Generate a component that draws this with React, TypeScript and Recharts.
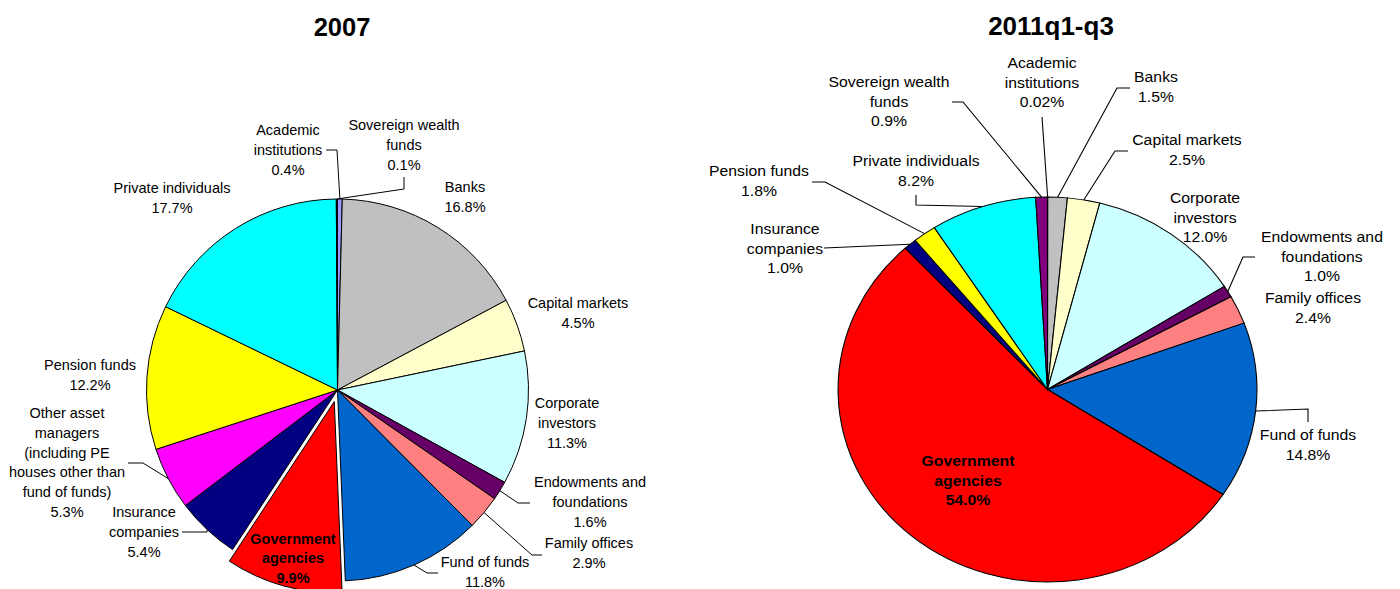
import { PieChart, Pie, Cell } from "recharts";

// categories in the order the slices run clockwise from 12 o'clock
const categories = [
  "Academic\ninstitutions",
  "Banks",
  "Capital markets",
  "Corporate\ninvestors",
  "Endowments and\nfoundations",
  "Family offices",
  "Fund of funds",
  "Government\nagencies",
  "Insurance\ncompanies",
  "Other asset\nmanagers\n(including PE\nhouses other than\nfund of funds)",
  "Pension funds",
  "Private individuals",
  "Sovereign wealth\nfunds",
];

const share2007 = [0.4, 16.8, 4.5, 11.3, 1.6, 2.9, 11.8, 9.9, 5.4, 5.3, 12.2, 17.7, 0.1];
const share2011 = [0.02, 1.5, 2.5, 12.0, 1.0, 2.4, 14.8, 54.0, 1.0, null, 1.8, 8.2, 0.9];

const sliceColors = [
  "#9999FF",
  "#C0C0C0",
  "#FFFFCC",
  "#CCFFFF",
  "#660066",
  "#FF8080",
  "#0066CC",
  "#FF0000",
  "#000080",
  "#FF00FF",
  "#FFFF00",
  "#00FFFF",
  "#800080",
];

const titles = ["2007", "2011q1-q3"];

const GOV = 7; // exploded / bold slice

type Spot = { dx: number; dy: number; lead?: [number, number][] } | null;

// label placement relative to the pie centre (page pixels)
const spots2007: Spot[] = [
  { dx: -49.5, dy: -260, lead: [[-11.5, -240], [-0.5, -240]] },
  { dx: 127.5, dy: -203 },
  { dx: 240.5, dy: -87 },
  { dx: 229.5, dy: 13 },
  { dx: 252.5, dy: 92, lead: [[192.5, 113], [180.5, 113]] },
  { dx: 251.5, dy: 153, lead: [[204.5, 165], [194.5, 165]] },
  { dx: 147.5, dy: 172, lead: [[100.5, 183], [89.5, 183]] },
  { dx: -44.5, dy: 149 },
  { dx: -193.5, dy: 122, lead: [[-155.5, 142], [-130.5, 142]] },
  { dx: -270.5, dy: 23, lead: [[-209.5, 73], [-194.5, 73]] },
  { dx: -247.5, dy: -25 },
  { dx: -165.5, dy: -202 },
  { dx: 66.5, dy: -265, lead: [[66.5, -213], [66.5, -201]] },
];

const spots2011: Spot[] = [
  { dx: -5.5, dy: -326.5, lead: [[-5.5, -272.5]] },
  { dx: 108.5, dy: -312.5, lead: [[82.5, -301.5], [69.5, -301.5]] },
  { dx: 139.5, dy: -249.5, lead: [[80.5, -238.5], [67.5, -238.5]] },
  { dx: 157.5, dy: -191.5 },
  { dx: 274.5, dy: -152.5, lead: [[207.5, -132.5], [195.5, -132.5]] },
  { dx: 265.5, dy: -91.5 },
  { dx: 260.5, dy: 45.5, lead: [[260.5, 32.5], [260.5, 19.5]] },
  { dx: -79.5, dy: 71.5 },
  { dx: -262.5, dy: -160.5, lead: [[-223.5, -141.5]] },
  null,
  { dx: -288.5, dy: -218.5, lead: [[-235.5, -207.5], [-222.5, -207.5]] },
  { dx: -131.5, dy: -228.5, lead: [[-131.5, -194.5], [-131.5, -184.5]] },
  { dx: -158.5, dy: -307.5, lead: [[-95.5, -287.5], [-84.5, -287.5]] },
];

const FONT = "'Liberation Sans', Arial, sans-serif";
const RAD = Math.PI / 180;
const NO_MARGIN = { top: 0, right: 0, bottom: 0, left: 0 };

const fmt = (v: number) => (v < 0.1 ? v.toFixed(2) : v.toFixed(1)) + "%";

function buildData(values: (number | null)[]) {
  return values
    .map((v, i) => ({ name: categories[i], value: v, idx: i, fill: sliceColors[i] }))
    .filter((d) => d.value !== null) as { name: string; value: number; idx: number; fill: string }[];
}

const data2007 = buildData(share2007);
const data2011 = buildData(share2011);

function makeLabel(
  spots: Spot[],
  ox: number,
  oy: number,
  sx: number,
  lh: number,
  test: (i: number) => boolean
) {
  return (p: any) => {
    const i = p.idx ?? p.payload?.idx ?? p.index;
    const s = spots[i];
    if (!s || !test(i)) return <g />;
    const a = -p.midAngle * RAD;
    const ex = p.cx + p.outerRadius * Math.cos(a);
    const ey = p.cy + p.outerRadius * Math.sin(a);
    const lines = [...categories[i].split("\n"), fmt(p.value)];
    const tx = ox + s.dx / sx;
    const pts = (s.lead || []).map(([a1, b1]) => `${ox + a1 / sx},${oy + b1}`);
    if (s.lead) pts.push(`${ex},${ey}`);
    return (
      <g>
        {s.lead && <polyline points={pts.join(" ")} fill="none" stroke="#000" strokeWidth={1} />}
        <text
          x={tx}
          textAnchor="middle"
          fontFamily={FONT}
          fontSize={14.5}
          fontWeight={i === GOV ? "bold" : "normal"}
          fill="#000"
        >
          {lines.map((t, k) => (
            <tspan key={k} x={tx} y={oy + s.dy + k * lh + 5}>
              {t}
            </tspan>
          ))}
        </text>
      </g>
    );
  };
}

// 2007 pie
const CX1 = 337.5;
const CY1 = 390;
const R1 = 191;
const EXPLODE = 12;
const govFrac =
  (share2007.slice(0, GOV).reduce((a, b) => a + b, 0) + share2007[GOV] / 2) /
  share2007.reduce((a, b) => a + b, 0);
const govDx = Math.sin(govFrac * 2 * Math.PI) * EXPLODE;
const govDy = -Math.cos(govFrac * 2 * Math.PI) * EXPLODE;

// 2011 pie (stretched horizontally like the source)
const CX2 = 347.5;
const CY2 = 389.5;
const R2 = 192.5;
const SX2 = 1.088;

export default function App() {
  return (
    <div
      style={{
        position: "absolute",
        left: 0,
        top: 0,
        width: 1400,
        height: 589,
        background: "#fff",
        overflow: "hidden",
      }}
    >
      <svg width={1400} height={60} style={{ position: "absolute", left: 0, top: 0 }}>
        <text x={342} y={36} textAnchor="middle" fontFamily={FONT} fontSize={25.5} fontWeight="bold">
          {titles[0]}
        </text>
        <text x={1051} y={35} textAnchor="middle" fontFamily={FONT} fontSize={26} fontWeight="bold">
          {titles[1]}
        </text>
      </svg>

      <div style={{ position: "absolute", left: 0, top: 0 }}>
        <PieChart width={700} height={589} margin={NO_MARGIN}>
          <Pie
            data={data2007}
            dataKey="value"
            nameKey="name"
            cx={CX1}
            cy={CY1}
            outerRadius={R1}
            startAngle={90}
            endAngle={-270}
            isAnimationActive={false}
            labelLine={false}
            label={makeLabel(spots2007, CX1, CY1, 1, 19.8, (i) => i !== GOV)}
          >
            {data2007.map((d) => (
              <Cell
                key={d.idx}
                fill={d.idx === GOV ? "none" : d.fill}
                stroke={d.idx === GOV ? "none" : "#000"}
                strokeWidth={1}
              />
            ))}
          </Pie>
          <Pie
            data={data2007}
            dataKey="value"
            nameKey="name"
            cx={CX1 + govDx}
            cy={CY1 + govDy}
            outerRadius={R1}
            startAngle={90}
            endAngle={-270}
            isAnimationActive={false}
            labelLine={false}
            label={makeLabel(spots2007, CX1, CY1, 1, 19.3, (i) => i === GOV)}
          >
            {data2007.map((d) => (
              <Cell
                key={d.idx}
                fill={d.idx === GOV ? d.fill : "none"}
                stroke={d.idx === GOV ? "#000" : "none"}
                strokeWidth={1}
              />
            ))}
          </Pie>
        </PieChart>
      </div>

      <div
        style={{
          position: "absolute",
          left: 700,
          top: 0,
          transform: `scaleX(${SX2})`,
          transformOrigin: `${CX2}px 0px`,
        }}
      >
        <PieChart width={700} height={589} margin={NO_MARGIN}>
          <Pie
            data={data2011}
            dataKey="value"
            nameKey="name"
            cx={CX2}
            cy={CY2}
            outerRadius={R2}
            startAngle={90}
            endAngle={-270}
            isAnimationActive={false}
            labelLine={false}
            label={makeLabel(spots2011, CX2, CY2, SX2, 19.7, () => true)}
          >
            {data2011.map((d) => (
              <Cell key={d.idx} fill={d.fill} stroke="#000" strokeWidth={1} />
            ))}
          </Pie>
        </PieChart>
      </div>
    </div>
  );
}
